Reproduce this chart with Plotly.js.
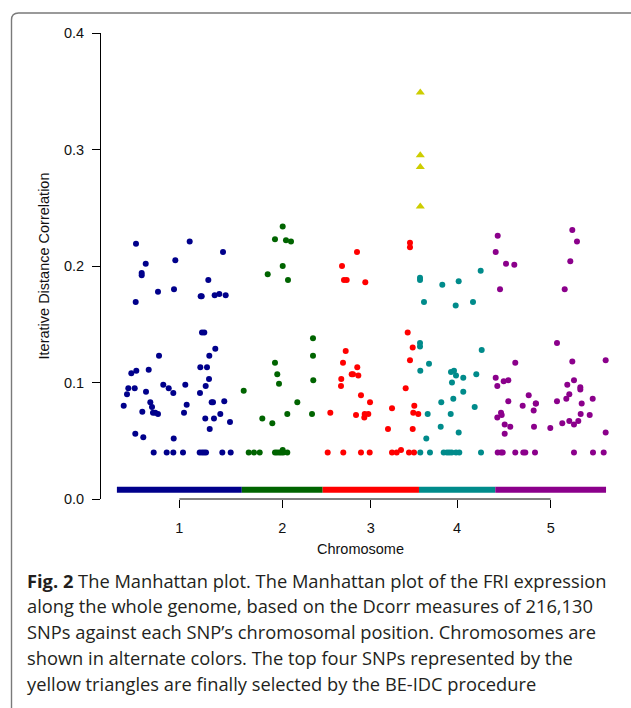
<!DOCTYPE html>
<html>
<head>
<meta charset="utf-8">
<script src="https://cdn.plot.ly/plotly-3.0.1.min.js"></script>
<style>html,body{margin:0;padding:0;background:#fff;}#chart{width:631px;height:708px;}</style>
</head>
<body>
<div id="chart"></div>
<script>
// ---------------- DATA ----------------
const chrLabels = ['1', '2', '3', '4', '5'];
const chrLengthMb = [30.43, 19.70, 23.46, 18.59, 26.98];
const chrColors = ['#00008B', '#006400', '#FF0000', '#008B8B', '#8B008B'];
// dense mass of SNPs with near-zero Dcorr (drawn as a thick band)
const bandLevel = [0.008, 0.008, 0.008, 0.008, 0.008];

const chr1Pos = [4.65,17.73,25.85,14.23,7.02,6.04,6.04,22.27,10.01,13.91,20.41,20.66,23.82,24.95,26.50,4.58,20.73,21.29,23.97,10.26,22.51,3.51,4.73,7.75,20.32,21.95,22.44,2.78,4.34,2.46,7.09,11.30,12.62,13.74,16.66,20.24,21.63,1.66,8.14,8.55,6.19,8.79,9.35,10.01,17.00,16.35,23.09,23.41,26.16,21.53,23.65,25.19,27.55,22.61,4.48,6.43,13.84,
  8.96,12.13,13.74,16.10,20.17,20.73,21.22,21.71,25.68,27.72];
const chr1Val = [0.219,0.221,0.212,0.205,0.202,0.194,0.192,0.188,0.178,0.180,0.174,0.174,0.175,0.176,0.175,0.169,0.143,0.143,0.129,0.123,0.123,0.108,0.110,0.111,0.113,0.113,0.103,0.095,0.095,0.090,0.092,0.098,0.095,0.091,0.098,0.091,0.097,0.080,0.083,0.079,0.075,0.074,0.074,0.073,0.081,0.074,0.083,0.083,0.084,0.069,0.069,0.073,0.066,0.060,0.056,0.053,0.052,
  0.040,0.040,0.040,0.040,0.040,0.040,0.040,0.040,0.040,0.040];

const chr2Pos = [9.96,8.08,10.76,11.98,9.96,6.31,11.25,17.34,17.34,8.08,8.64,17.41,9.06,0.46,13.52,11.08,17.10,4.99,7.43,
  1.68,2.97,4.36,8.08,8.57,9.13,9.62,10.11,11.08,9.96];
const chr2Val = [0.234,0.223,0.222,0.221,0.200,0.193,0.188,0.138,0.123,0.117,0.107,0.102,0.099,0.093,0.083,0.073,0.073,0.069,0.065,
  0.040,0.040,0.040,0.040,0.040,0.040,0.040,0.040,0.040,0.042];

const chr3Pos = [21.27,21.27,8.36,4.71,5.19,5.85,10.38,20.71,21.93,5.61,4.95,21.27,8.43,7.07,7.39,8.68,4.53,4.46,20.22,9.33,11.53,22.32,16.89,1.86,22.07,23.29,8.12,10.14,10.24,11.11,15.91,21.93,
  1.22,5.02,9.33,11.45,16.89,18.03,19.08,21.03,22.25];
const chr3Val = [0.220,0.216,0.212,0.200,0.188,0.188,0.186,0.143,0.130,0.127,0.117,0.119,0.113,0.107,0.107,0.106,0.103,0.097,0.095,0.089,0.083,0.080,0.078,0.074,0.074,0.073,0.072,0.070,0.073,0.073,0.060,0.060,
  0.040,0.040,0.040,0.040,0.040,0.040,0.042,0.040,0.040];

const chr4Pos = [0.25,0.25,5.68,9.67,15.03,1.22,8.94,13.16,0.25,0.25,15.28,2.44,0.32,7.80,8.53,9.02,8.04,10.79,13.96,10.79,8.36,5.43,13.57,2.12,7.73,5.29,9.67,1.78,
  0.32,2.68,6.02,6.82,7.38,7.97,9.02,9.82,15.11];
const chr4Val = [0.190,0.188,0.184,0.187,0.196,0.169,0.166,0.169,0.134,0.131,0.128,0.116,0.110,0.109,0.110,0.106,0.100,0.104,0.107,0.092,0.086,0.083,0.079,0.073,0.073,0.062,0.057,0.052,
  0.040,0.040,0.040,0.040,0.040,0.040,0.040,0.040,0.040];

const chr5Pos = [0.59,18.76,19.90,0.10,2.61,4.63,18.27,1.15,16.91,15.03,18.76,26.89,4.87,0.10,0.49,2.05,3.17,17.54,19.17,20.71,20.71,8.14,18.03,17.30,15.03,23.73,3.17,6.67,9.91,9.85,21.05,9.35,1.39,1.56,0.49,20.80,23.00,2.29,3.65,2.29,9.43,13.40,16.32,18.03,19.17,20.22,26.89,
  0.59,1.39,1.80,4.87,6.82,7.31,9.67,19.17,23.80,26.41];
const chr5Val = [0.226,0.231,0.221,0.212,0.202,0.201,0.204,0.180,0.180,0.134,0.118,0.119,0.117,0.104,0.097,0.101,0.102,0.098,0.102,0.096,0.094,0.089,0.090,0.086,0.084,0.086,0.084,0.080,0.082,0.082,0.082,0.076,0.074,0.072,0.070,0.073,0.072,0.064,0.062,0.056,0.062,0.061,0.065,0.067,0.064,0.067,0.057,
  0.040,0.040,0.040,0.040,0.040,0.040,0.040,0.040,0.040,0.040];

// top four SNPs selected by BE-IDC (chromosome 4)
const topSnpChrIndex = [3, 3, 3, 3];
const topSnpPos = [0.32, 0.32, 0.32, 0.32];
const topSnpVal = [0.349, 0.295, 0.285, 0.251];

const yTickVals = [0.0, 0.1, 0.2, 0.3, 0.4];

const captionLines = [
  '<b>Fig. 2</b> The Manhattan plot. The Manhattan plot of the FRI expression',
  'along the whole genome, based on the Dcorr measures of 216,130',
  'SNPs against each SNP\u2019s chromosomal position. Chromosomes are',
  'shown in alternate colors. The top four SNPs represented by the',
  'yellow triangles are finally selected by the BE-IDC procedure'
];

// ---------------- BUILD ----------------
const chrPos = [chr1Pos, chr2Pos, chr3Pos, chr4Pos, chr5Pos];
const chrVal = [chr1Val, chr2Val, chr3Val, chr4Val, chr5Val];
const chrOffset = [];
let acc = 0;
chrLengthMb.forEach(function (L) { chrOffset.push(acc); acc += L; });
const chrCenter = chrLengthMb.map(function (L, i) { return chrOffset[i] + L / 2; });

const W = 631, H = 708;
const M = {l: 101, r: 11, t: 33, b: 209};
const PW = W - M.l - M.r, PH = H - M.t - M.b;
function px2paperX(X) { return (X - M.l) / PW; }
function px2paperY(Y) { return (H - M.b - Y) / PH; }

const traces = [];
// dense near-zero band
chrLengthMb.forEach(function (L, i) {
  traces.push({
    type: 'scatter', mode: 'lines',
    x: [chrOffset[i], chrOffset[i] + L],
    y: [bandLevel[i], bandLevel[i]],
    line: {color: chrColors[i], width: 6},
    hoverinfo: 'skip', showlegend: false
  });
});
// SNP points
chrPos.forEach(function (arr, i) {
  traces.push({
    type: 'scatter', mode: 'markers',
    x: arr.map(function (p) { return p + chrOffset[i]; }),
    y: chrVal[i],
    marker: {color: chrColors[i], size: 6, line: {width: 0}},
    name: 'Chr ' + chrLabels[i], showlegend: false
  });
});
// top SNPs
traces.push({
  type: 'scatter', mode: 'markers',
  x: topSnpPos.map(function (p, k) { return p + chrOffset[topSnpChrIndex[k]]; }),
  y: topSnpVal,
  marker: {color: '#CDCD00', size: 8, symbol: 'triangle-up', line: {width: 0}},
  name: 'Top SNPs', showlegend: false
});

const axisFont = {family: 'Liberation Sans, Arial, sans-serif', size: 14.5, color: '#111'};
const capFont = {family: 'Open Sans, sans-serif', size: 18.3, color: '#231F20'};

const annotations = captionLines.map(function (t, k) {
  return {
    xref: 'paper', yref: 'paper',
    x: px2paperX(25), y: px2paperY(580 + k * 25.8),
    xanchor: 'left', yanchor: 'middle',
    text: t, showarrow: false, font: capFont, align: 'left'
  };
});

const layout = {
  width: W, height: H,
  margin: {l: M.l, r: M.r, t: M.t, b: M.b, pad: 0},
  paper_bgcolor: '#fff', plot_bgcolor: '#fff',
  showlegend: false,
  xaxis: {
    range: [-3.873, 122.56],
    tickmode: 'array', tickvals: chrCenter, ticktext: chrLabels,
    ticks: 'outside', ticklen: 8, tickwidth: 1, tickcolor: '#000',
    ticklabelstandoff: 8,
    showline: false, showgrid: false, zeroline: false,
    tickfont: axisFont,
    title: {text: 'Chromosome', font: axisFont, standoff: 8}
  },
  yaxis: {
    range: [0, 0.4],
    tickmode: 'array', tickvals: yTickVals, tickformat: '.1f',
    ticks: 'outside', ticklen: 8, tickwidth: 1, tickcolor: '#000',
    ticklabelstandoff: 5,
    showline: true, linecolor: '#000', linewidth: 1,
    showgrid: false, zeroline: false,
    tickfont: axisFont,
    title: {text: 'Iterative Distance Correlation', font: axisFont, standoff: 10}
  },
  shapes: [
    // R-style x axis line running from first to last tick
    {type: 'line', xref: 'x', yref: 'paper', x0: chrCenter[0], x1: chrCenter[chrCenter.length - 1], y0: 0, y1: 0,
     line: {color: '#000', width: 1}},
    // figure frame with rounded top-left corner
    {type: 'path', xref: 'paper', yref: 'paper', layer: 'below',
     path: 'M ' + px2paperX(11.5) + ' ' + px2paperY(720) +
           ' L ' + px2paperX(11.5) + ' ' + px2paperY(20) +
           ' Q ' + px2paperX(11.5) + ' ' + px2paperY(13) + ' ' + px2paperX(18.5) + ' ' + px2paperY(13) +
           ' L ' + px2paperX(640) + ' ' + px2paperY(13),
     line: {color: '#7a7a7a', width: 1.4}}
  ],
  annotations: annotations
};

Plotly.newPlot('chart', traces, layout, {displayModeBar: false, staticPlot: true});
</script>
</body>
</html>
